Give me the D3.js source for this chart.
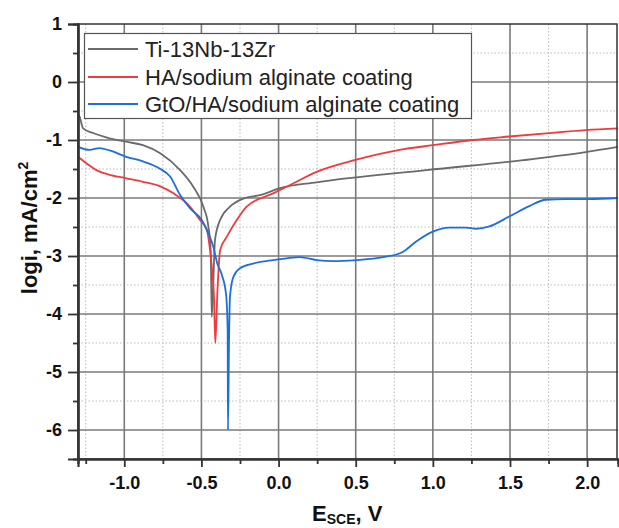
<!DOCTYPE html>
<meta charset="utf-8">
<html>
<head>
<script src="https://d3js.org/d3.v7.min.js"></script>
<style>
  body { margin: 0; background: #fff; }
  text { font-family: Arial, "Liberation Sans", sans-serif; }
</style>
</head>
<body>
<svg width="619" height="528"></svg>
<script>

// legend / series names
var seriesNames = ["Ti-13Nb-13Zr", "HA/sodium alginate coating", "GtO/HA/sodium alginate coating"];

var tiE   = [-1.30, -1.289, -1.267, -1.202, -1.095, -0.987, -0.879, -0.767, -0.638, -0.552, -0.487, -0.455, -0.44, -0.433, -0.412, -0.379, -0.315, -0.229, -0.12, 0.01, 0.246, 0.957, 1.645, 1.99, 2.2];
var tiLog = [-0.55, -0.60, -0.80, -0.88, -0.97, -1.03, -1.09, -1.23, -1.52, -1.81, -2.15, -2.49, -2.90, -4.05, -2.72, -2.38, -2.15, -2.01, -1.95, -1.83, -1.73, -1.52, -1.33, -1.21, -1.12];

var haE   = [-1.30, -1.246, -1.181, -1.095, -0.987, -0.879, -0.767, -0.681, -0.595, -0.509, -0.465, -0.444, -0.433, -0.418, -0.41, -0.396, -0.379, -0.336, -0.271, -0.207, -0.035, 0.094, 0.246, 0.504, 0.784, 1.0, 1.258, 1.495, 1.754, 1.99, 2.2];
var haLog = [-1.29, -1.40, -1.52, -1.60, -1.66, -1.72, -1.80, -1.92, -2.09, -2.38, -2.55, -2.90, -3.18, -3.76, -4.5, -3.59, -2.90, -2.67, -2.38, -2.15, -1.92, -1.75, -1.55, -1.34, -1.17, -1.09, -1.0, -0.94, -0.88, -0.83, -0.8];

var gtoE   = [-1.30, -1.224, -1.16, -1.095, -0.987, -0.879, -0.772, -0.703, -0.638, -0.573, -0.498, -0.455, -0.423, -0.397, -0.367, -0.34, -0.33, -0.328, -0.321, -0.315, -0.293, -0.25, -0.164, -0.035, 0.052, 0.138, 0.246, 0.353, 0.504, 0.676, 0.805, 0.892, 1.0, 1.107, 1.215, 1.28, 1.366, 1.495, 1.625, 1.732, 1.86, 2.01, 2.2];
var gtoLog = [-1.12, -1.17, -1.14, -1.18, -1.29, -1.37, -1.49, -1.63, -1.95, -2.18, -2.38, -2.61, -2.84, -3.13, -3.33, -3.67, -4.28, -6.0, -4.45, -3.70, -3.36, -3.21, -3.13, -3.07, -3.04, -3.02, -3.07, -3.09, -3.07, -3.02, -2.93, -2.75, -2.58, -2.51, -2.51, -2.53, -2.49, -2.32, -2.14, -2.03, -2.02, -2.02, -2.0];

var xTicks = [-1.0, -0.5, 0.0, 0.5, 1.0, 1.5, 2.0];
var yTicks = [1, 0, -1, -2, -3, -4, -5, -6];

var colors = ["#6a6a6a", "#ef3b3b", "#1d6fdc"];

var svg = d3.select("svg"),
    margin = {top: 24, right: 1, bottom: 69, left: 78},
    width = +svg.attr("width"),
    height = +svg.attr("height");

var x = d3.scaleLinear()
    .domain([-1.3, 2.2])
    .range([margin.left, width - margin.right]);

var y = d3.scaleLinear()
    .domain([-6.5, 1])
    .range([height - margin.bottom, margin.top]);

var x0 = x.range()[0], x1 = x.range()[1], y0 = y.range()[0], y1 = y.range()[1];

// hyphen instead of unicode minus, like the original
var fmt1 = function(d) { return d3.format(".1f")(d).replace("−", "-"); };
var fmt0 = function(d) { return d3.format("d")(d).replace("−", "-"); };

// minor grid (dotted)
var xMinor = d3.range(-1.25, 2.2, 0.5);
var yMinor = d3.range(-6, 1, 1).map(function(d) { return d + 0.5; });

svg.append("g").selectAll("line")
    .data(xMinor)
    .enter().append("line")
      .attr("x1", function(d) { return x(d); })
      .attr("x2", function(d) { return x(d); })
      .attr("y1", y1).attr("y2", y0)
      .attr("stroke", "#bbb")
      .attr("stroke-width", 1)
      .attr("stroke-dasharray", "1.5,2");

svg.append("g").selectAll("line")
    .data(yMinor)
    .enter().append("line")
      .attr("y1", function(d) { return y(d); })
      .attr("y2", function(d) { return y(d); })
      .attr("x1", x0).attr("x2", x1)
      .attr("stroke", "#bbb")
      .attr("stroke-width", 1)
      .attr("stroke-dasharray", "1.5,2");

// major grid
svg.append("g").selectAll("line")
    .data(xTicks)
    .enter().append("line")
      .attr("x1", function(d) { return x(d); })
      .attr("x2", function(d) { return x(d); })
      .attr("y1", y1).attr("y2", y0)
      .attr("stroke", "#7a7a7a")
      .attr("stroke-width", 1.6);

svg.append("g").selectAll("line")
    .data(yTicks.filter(function(d) { return d < 1; }))
    .enter().append("line")
      .attr("y1", function(d) { return y(d); })
      .attr("y2", function(d) { return y(d); })
      .attr("x1", x0).attr("x2", x1)
      .attr("stroke", "#7a7a7a")
      .attr("stroke-width", 1.6);

// curves
svg.append("clipPath").attr("id", "clip")
  .append("rect")
    .attr("x", x0).attr("y", y1)
    .attr("width", x1 - x0).attr("height", y0 - y1);

var line = d3.line()
    .x(function(d) { return x(d[0]); })
    .y(function(d) { return y(d[1]); })
    .curve(d3.curveMonotoneX);

var series = [d3.zip(tiE, tiLog), d3.zip(haE, haLog), d3.zip(gtoE, gtoLog)];

svg.append("g")
    .attr("clip-path", "url(#clip)")
  .selectAll("path")
  .data(series)
  .enter().append("path")
    .attr("d", line)
    .attr("fill", "none")
    .attr("stroke", function(d, i) { return colors[i]; })
    .attr("stroke-width", 1.8);

// frame
svg.append("rect")
    .attr("x", x0).attr("y", y1)
    .attr("width", x1 - x0 - 1).attr("height", y0 - y1)
    .attr("fill", "none")
    .attr("stroke", "#333")
    .attr("stroke-width", 1.5);

// axes
svg.append("g")
    .attr("transform", "translate(0," + y0 + ")")
    .call(d3.axisBottom(x).tickValues(xTicks).tickSize(8).tickPadding(9)
      .tickFormat(fmt1));

svg.append("g")
    .attr("transform", "translate(0," + y0 + ")")
    .call(d3.axisBottom(x).tickValues(xMinor).tickSize(5).tickFormat(""));

svg.append("g")
    .attr("transform", "translate(" + x0 + ",0)")
    .call(d3.axisLeft(y).tickValues(yTicks).tickSize(10).tickPadding(6)
      .tickFormat(fmt0));

svg.append("g")
    .attr("transform", "translate(" + x0 + ",0)")
    .call(d3.axisLeft(y).tickValues(yMinor).tickSize(5).tickFormat(""));

svg.selectAll(".domain").attr("stroke", "#333").attr("stroke-width", 2.2);
svg.selectAll(".tick line").attr("stroke", "#333").attr("stroke-width", 1.8);
svg.selectAll(".tick text")
    .attr("fill", "#111")
    .style("font-size", "18px")
    .style("font-weight", "bold")
    .style("font-family", "Arial, 'Liberation Sans', sans-serif");

// axis titles
var yTitle = svg.append("text")
    .attr("transform", "translate(37,228) rotate(-90)")
    .attr("text-anchor", "middle")
    .style("font-size", "22px")
    .style("font-weight", "bold")
    .attr("fill", "#111");
yTitle.append("tspan").text("logi, mA/cm");
yTitle.append("tspan").attr("dy", -9).style("font-size", "14px").text("2");

var xTitle = svg.append("text")
    .attr("x", 312).attr("y", 521)
    .style("font-size", "22px")
    .style("font-weight", "bold")
    .attr("fill", "#111");
xTitle.append("tspan").text("E");
xTitle.append("tspan").attr("dy", 3).style("font-size", "14px").text("SCE");
xTitle.append("tspan").attr("dy", -3).text(", V");

// legend
var legend = svg.append("g");
legend.append("rect")
    .attr("x", 84.5).attr("y", 33.5)
    .attr("width", 387).attr("height", 85)
    .attr("fill", "#fff")
    .attr("stroke", "#555")
    .attr("stroke-width", 1.2);

var rowY = [49, 77, 104];
var items = legend.selectAll("g.item")
    .data(seriesNames)
    .enter().append("g")
      .attr("class", "item")
      .attr("transform", function(d, i) { return "translate(0," + rowY[i] + ")"; });

items.append("line")
    .attr("x1", 88).attr("x2", 138)
    .attr("stroke", function(d, i) { return colors[i]; })
    .attr("stroke-width", 1.8);

items.append("text")
    .attr("x", 145).attr("y", 8)
    .style("font-size", "22px")
    .attr("fill", "#222")
    .text(function(d) { return d; });

</script>
</body>
</html>
